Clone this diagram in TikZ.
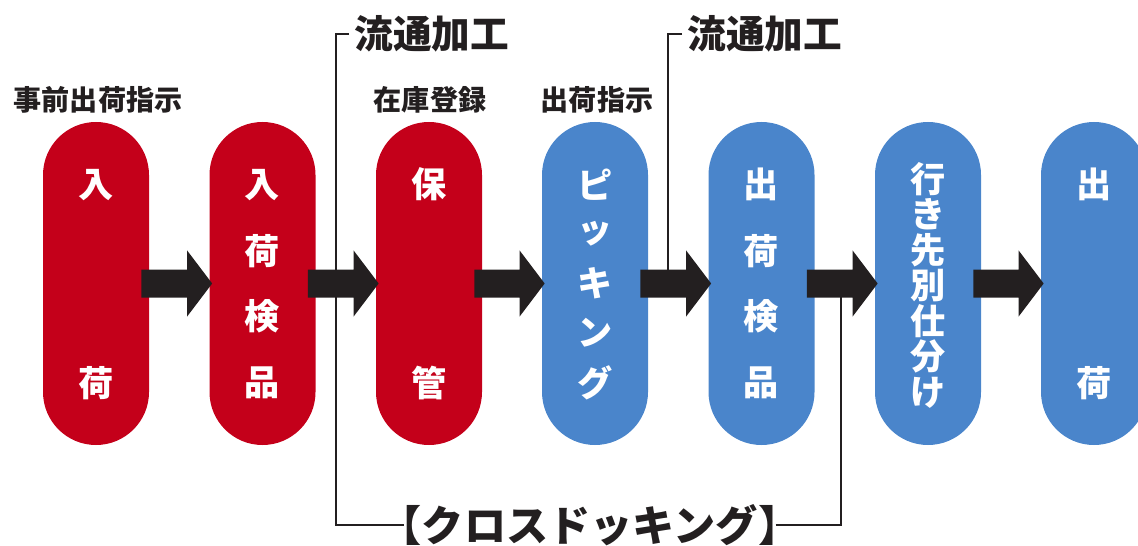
\documentclass[tikz,border=0pt]{standalone}
\usepackage{fontspec}
\newfontfamily\jp{Noto Sans CJK JP}
\usetikzlibrary{calc,positioning}
\definecolor{inred}{RGB}{196,0,26}
\definecolor{outblue}{RGB}{74,133,203}
\definecolor{inkblack}{RGB}{35,31,32}
\tikzstyle{pill} = [rounded corners=1.06cm, minimum width=2.12cm, minimum height=6.46cm, inner sep=0pt]
\tikzstyle{chr} = [text=white, inner sep=0pt, font=\jp\bfseries\fontsize{20}{20}\selectfont]
\tikzstyle{toplabel} = [text=inkblack, inner sep=0pt, font=\jp\bfseries\fontsize{16}{16}\selectfont]
\tikzstyle{biglabel} = [text=inkblack, inner sep=0pt, font=\jp\bfseries\fontsize{22}{22}\selectfont]
\tikzstyle{crosslabel} = [text=inkblack, inner sep=0pt, font=\jp\bfseries\fontsize{24}{24}\selectfont]
\tikzstyle{bracket} = [draw=inkblack, line width=1.1pt]
\def\blockarrow(#1,#2){\fill[inkblack] ($(#1.east)+(-0.16,0.28)$) -- ($(#2.west)+(-0.44,0.28)$)
 -- ($(#2.west)+(-0.44,0.66)$) -- ($(#2.west)+(0.06,0)$) -- ($(#2.west)+(-0.44,-0.66)$)
 -- ($(#2.west)+(-0.44,-0.28)$) -- ($(#1.east)+(-0.16,-0.28)$) -- cycle;}
\def\pilltext(#1,#2,#3,#4){\foreach \c [count=\k from 0] in {#4}
 {\node[chr] (#1-\k) at ($(#1.north)+(0,{-#2-\k*#3})$) {\c};}}

\begin{document}
\begin{tikzpicture}
\useasboundingbox (0,0) rectangle (22.76,-10.92);
% labels
\node[toplabel] (pre) at (1.96,-2.0) {事前出荷指示};
\node[toplabel] (zaiko) at (8.6,-2.0) {在庫登録};
\node[toplabel] (shiji) at (11.94,-2.0) {出荷指示};
\node[biglabel, anchor=west] (kako1) at (7.08,-0.68) {流通加工};
\node[biglabel, anchor=west] (kako2) at (13.74,-0.68) {流通加工};
\node[crosslabel] (cross) at (11.8,-10.5) {【クロスドッキング】};
% brackets
\coordinate (c1) at (6.72,-10.5);
\coordinate (c2) at (16.82,-10.5);
\coordinate (c3) at (13.36,-5.67);
\draw[bracket] ($(kako1.west)+(-0.1,0)$) -| (c1) -- ($(cross.west)+(0.5,0)$);
\draw[bracket] ($(cross.east)+(-0.5,0)$) -- (c2) -- (16.82,-5.67);
\draw[bracket] ($(kako2.west)+(-0.1,0)$) -| (c3);
% pills
\node[pill, fill=inred] (p1) at (1.92,-5.67) {};
\node[pill, fill=inred] (p2) at (5.25,-5.67) {};
\node[pill, fill=inred] (p3) at (8.58,-5.67) {};
\node[pill, fill=outblue] (p4) at (11.9,-5.67) {};
\node[pill, fill=outblue] (p5) at (15.23,-5.67) {};
\node[pill, fill=outblue] (p6) at (18.56,-5.67) {};
\node[pill, fill=outblue] (p7) at (21.88,-5.67) {};
\pilltext(p1,1.26,3.96,入,荷)
\pilltext(p2,1.26,1.32,入,荷,検,品)
\pilltext(p3,1.26,3.96,保,管)
\pilltext(p4,1.26,0.99,ピ,ッ,キ,ン,グ)
\pilltext(p5,1.26,1.32,出,荷,検,品)
\pilltext(p6,1.14,0.713,行,き,先,別,仕,分,け)
\pilltext(p7,1.26,3.96,出,荷)
% arrows
\blockarrow(p1,p2)
\blockarrow(p2,p3)
\blockarrow(p3,p4)
\blockarrow(p4,p5)
\blockarrow(p5,p6)
\blockarrow(p6,p7)
\end{tikzpicture}
\end{document}
